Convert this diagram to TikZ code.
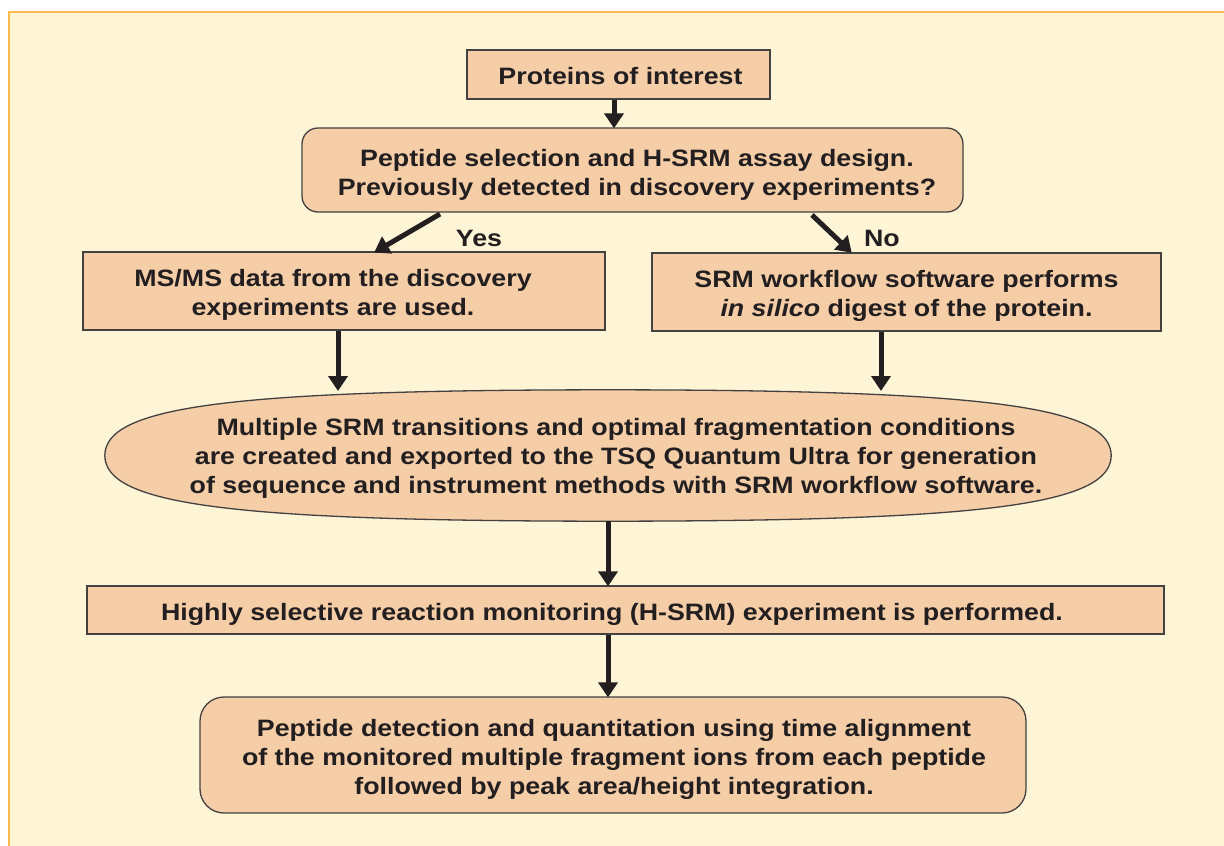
\documentclass[tikz,border=0pt]{standalone}
\usepackage{fontspec}
\setmainfont[FakeStretch=1.13]{Liberation Sans}
\usetikzlibrary{arrows.meta,shapes.geometric}
\definecolor{panel}{HTML}{FEF4D6}
\definecolor{paneledge}{HTML}{FDB94E}
\definecolor{boxfill}{HTML}{F5CEA8}
\definecolor{ink}{HTML}{231F20}
\tikzset{
  stepbox/.style={draw=ink!85, line width=1.3pt, fill=boxfill, inner sep=0pt},
  steptext/.style={align=center, text=ink, inner sep=0pt,
    font=\fontsize{23.7}{29}\selectfont\bfseries},
  flow/.style={draw=ink, line width=5pt,
    -{Triangle[width=19pt,length=15pt]}, shorten >=-1pt},
  tag/.style={text=ink, font=\fontsize{23.7}{28}\selectfont\bfseries}
}
\begin{document}
\begin{tikzpicture}[x=1pt,y=-1pt]
\useasboundingbox (0,0) rectangle (1224,846);
% panel behind the chart
\fill[panel] (8,11) rectangle (1224,846);
\draw[paneledge, line width=2pt] (9,846) -- (9,12) -- (1224,12);

% step shapes
\node[stepbox, minimum width=303pt, minimum height=49pt] (prot) at (618.5,74.5) {};
\node[stepbox, rounded corners=16pt, minimum width=661pt, minimum height=84pt] (design) at (632.5,170) {};
\node[stepbox, minimum width=522pt, minimum height=78pt] (msms) at (344,291) {};
\node[stepbox, minimum width=509pt, minimum height=78pt] (silico) at (906.5,292) {};
% the oval: a full-bodied ellipse drawn with four Bezier quarters
\node[ellipse, inner sep=0pt, minimum width=1006pt, minimum height=131pt] (export) at (608,455.5) {};
\draw[stepbox] (export.east)
  .. controls (1111,406.4) and (985.25,390) .. (export.north)
  .. controls (230.75,390) and (105,406.4) .. (export.west)
  .. controls (105,504.6) and (230.75,521) .. (export.south)
  .. controls (985.25,521) and (1111,504.6) .. (export.east) -- cycle;
\node[stepbox, minimum width=1077pt, minimum height=48pt] (hsrm) at (625.5,610) {};
\node[stepbox, rounded corners=24pt, minimum width=826pt, minimum height=116pt] (quant) at (613,755) {};

% step texts
\node[steptext] (prot-t) at (620.5,76.5) {Proteins of interest};
\node[steptext] (design-t) at (637,174.5)
  {Peptide selection and H-SRM assay design.\\Previously detected in discovery experiments?};
\node[steptext] (msms-t) at (333,295)
  {MS/MS data from the discovery\\experiments are used.};
\node[steptext] (silico-t) at (906.5,296)
  {SRM workflow software performs\\\textit{in silico} digest of the protein.};
\node[steptext] (export-t) at (616,458.5)
  {Multiple SRM transitions and optimal fragmentation conditions\\are created and exported to the TSQ Quantum Ultra for generation\\of sequence and instrument methods with SRM workflow software.};
\node[steptext] (hsrm-t) at (612,614)
  {Highly selective reaction monitoring (H-SRM) experiment is performed.};
\node[steptext] (quant-t) at (614,759)
  {Peptide detection and quantitation using time alignment\\of the monitored multiple fragment ions from each peptide\\followed by peak area/height integration.};

% branch labels
\node[tag] (yes) at (479,238) {Yes};
\node[tag] (no) at (882,238) {No};

% connectors
\draw[flow] (prot.south -| 614,0) -- (design.north -| 614,0);
\coordinate (yesfrom) at (440,214);
\coordinate (yesto) at (375,252);
\coordinate (nofrom) at (812,215);
\coordinate (noto) at (851,252);
\draw[flow] (yesfrom) -- (yesto);
\draw[flow] (nofrom) -- (noto);
\draw[flow] (msms.south -| 338,0) -- (338,390);
\draw[flow] (silico.south -| 881,0) -- (881,390);
\draw[flow] (export.south -| 608,0) -- (hsrm.north -| 608,0);
\draw[flow] (hsrm.south -| 608,0) -- (quant.north -| 608,0);
\end{tikzpicture}
\end{document}
